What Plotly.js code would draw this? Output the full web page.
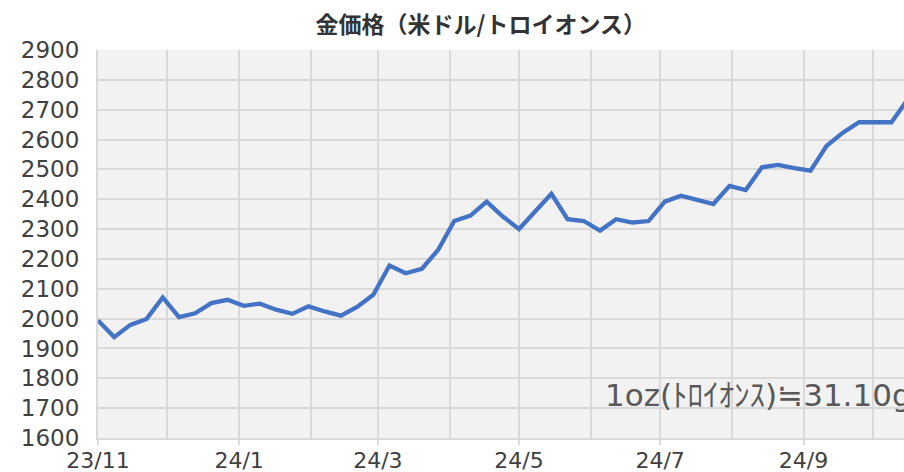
<!DOCTYPE html>
<html>
<head>
<meta charset="utf-8">
<script src="https://cdn.plot.ly/plotly-3.0.1.min.js"></script>
<style>
    html, body { margin: 0; padding: 0; background: #ffffff; }
    #chart { width: 904px; height: 472px; }
</style>
</head>
<body>
<div id="chart"></div>
<script>
// 週次データ（米ドル/トロイオンス）
const dates = [
    '2023-11-01', '2023-11-08', '2023-11-15', '2023-11-22', '2023-11-29',
    '2023-12-06', '2023-12-13', '2023-12-20', '2023-12-27',
    '2024-01-03', '2024-01-10', '2024-01-17', '2024-01-24', '2024-01-31',
    '2024-02-07', '2024-02-14', '2024-02-21', '2024-02-28',
    '2024-03-06', '2024-03-13', '2024-03-20', '2024-03-27',
    '2024-04-03', '2024-04-10', '2024-04-17', '2024-04-24',
    '2024-05-01', '2024-05-08', '2024-05-15', '2024-05-22', '2024-05-29',
    '2024-06-05', '2024-06-12', '2024-06-19', '2024-06-26',
    '2024-07-03', '2024-07-10', '2024-07-17', '2024-07-24', '2024-07-31',
    '2024-08-07', '2024-08-14', '2024-08-21', '2024-08-28',
    '2024-09-04', '2024-09-11', '2024-09-18', '2024-09-25',
    '2024-10-02', '2024-10-09', '2024-10-16'
];

const prices = [
    1994, 1938, 1979, 1999, 2071,
    2005, 2018, 2052, 2063,
    2043, 2050, 2030, 2016, 2041,
    2024, 2010, 2039, 2080,
    2178, 2152, 2167, 2230,
    2327, 2345, 2392, 2342,
    2300, 2359, 2418, 2333, 2327,
    2295, 2333, 2322, 2327,
    2392, 2412, 2398, 2384, 2445,
    2431, 2507, 2515, 2504,
    2496, 2579, 2623, 2658,
    2658, 2658, 2734
];

// 目盛り
const tickDates = ['2023-11-01', '2024-01-01', '2024-03-01', '2024-05-01', '2024-07-01', '2024-09-01'];
const tickLabels = ['23/11', '24/1', '24/3', '24/5', '24/7', '24/9'];
const monthStarts = [
    '2023-11-01', '2023-12-01', '2024-01-01', '2024-02-01', '2024-03-01', '2024-04-01',
    '2024-05-01', '2024-06-01', '2024-07-01', '2024-08-01', '2024-09-01', '2024-10-01'
];

const chartTitle = '金価格（米ドル/トロイオンス）';
const noteText = '1oz(ﾄﾛｲｵﾝｽ)≒31.10g';

const gridColor = '#d9d9d9';
const textColor = '#404040';
const tickFont = { family: 'DejaVu Sans, sans-serif', size: 23, color: textColor };

const trace = {
    x: dates,
    y: prices,
    type: 'scatter',
    mode: 'lines',
    line: { color: '#4472c4', width: 4.3 },
    hoverinfo: 'skip'
};

const layout = {
    width: 904,
    height: 472,
    margin: { l: 98, r: 0, t: 50, b: 34 },
    paper_bgcolor: '#ffffff',
    plot_bgcolor: '#f2f2f2',
    showlegend: false,
    title: {
        text: chartTitle,
        font: { family: 'Noto Sans CJK JP, sans-serif', size: 23, color: '#333333', weight: 'bold' },
        xref: 'paper',
        x: 0.475,
        xanchor: 'center',
        yref: 'container',
        y: 0.947,
        yanchor: 'middle'
    },
    xaxis: {
        type: 'date',
        range: ['2023-11-01', '2024-10-14 10:00'],
        tickmode: 'array',
        tickvals: tickDates,
        ticktext: tickLabels,
        ticks: 'outside',
        ticklen: 5,
        tickwidth: 2,
        tickcolor: gridColor,
        tickfont: { family: 'DejaVu Sans, sans-serif', size: 22, color: textColor },
        ticklabelstandoff: -3,
        showgrid: true,
        gridcolor: gridColor,
        gridwidth: 2,
        showline: true,
        linecolor: gridColor,
        linewidth: 2,
        zeroline: false,
        minor: {
            tickmode: 'array',
            tickvals: monthStarts,
            showgrid: true,
            gridcolor: gridColor,
            gridwidth: 2,
            ticks: ''
        }
    },
    yaxis: {
        range: [1600, 2900],
        dtick: 100,
        tick0: 1600,
        ticks: '',
        ticklabelstandoff: 12,
        tickfont: tickFont,
        showgrid: true,
        gridcolor: gridColor,
        gridwidth: 2,
        showline: true,
        linecolor: gridColor,
        linewidth: 2,
        zeroline: false
    },
    annotations: [{
        text: noteText,
        xref: 'paper',
        yref: 'paper',
        x: 0.627,
        y: 0.111,
        xanchor: 'left',
        yanchor: 'middle',
        showarrow: false,
        font: { family: 'DejaVu Sans, Noto Sans CJK JP, sans-serif', size: 31, color: '#595959' }
    }]
};

Plotly.newPlot('chart', [trace], layout, { displayModeBar: false, responsive: false, staticPlot: true });
</script>
</body>
</html>
